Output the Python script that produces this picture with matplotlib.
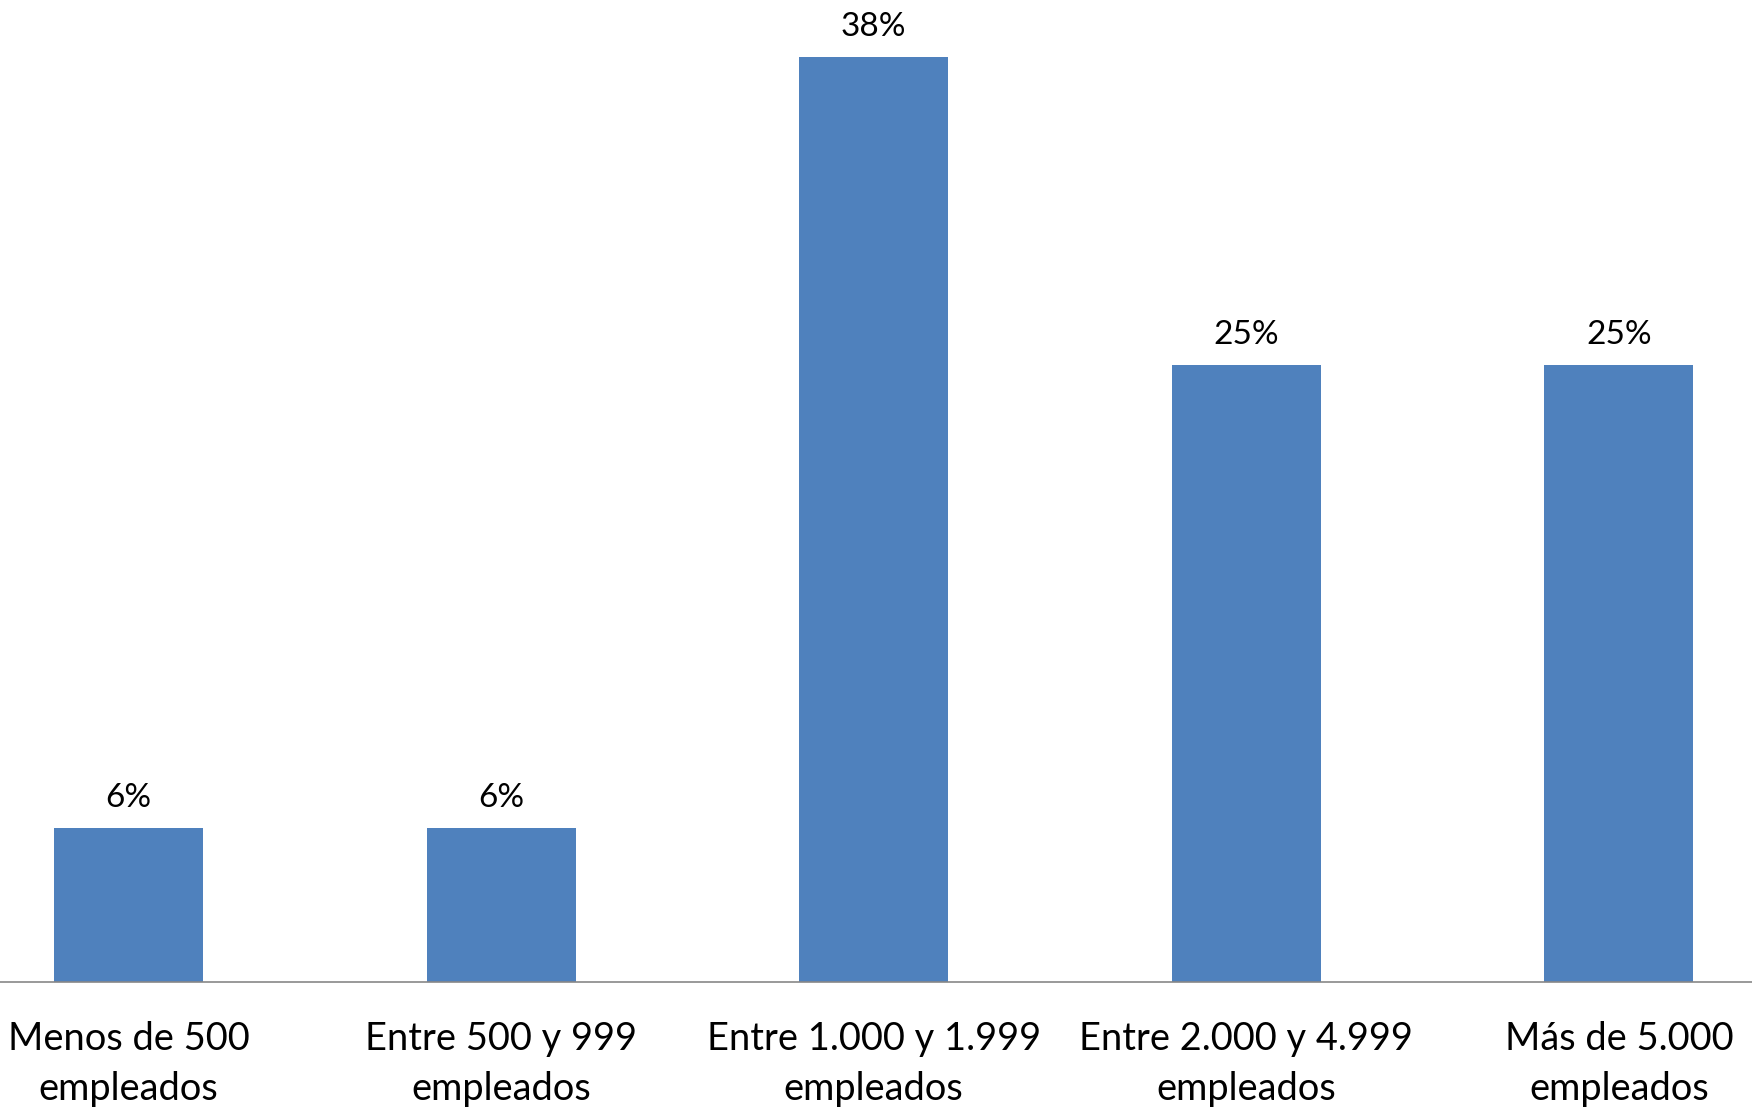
import matplotlib
matplotlib.use("Agg")
import matplotlib.pyplot as plt
import numpy as np

categories = [
    "Menos de 500\nempleados",
    "Entre 500 y 999\nempleados",
    "Entre 1.000 y 1.999\nempleados",
    "Entre 2.000 y 4.999\nempleados",
    "Más de 5.000\nempleados",
]
values = [6.25, 6.25, 37.5, 25.0, 25.0]
value_labels = ["6%", "6%", "38%", "25%", "25%"]

BAR_COLOR = "#4F81BD"

plt.rcParams["font.family"] = ["Lato", "DejaVu Sans"]

fig = plt.figure(figsize=(17.52, 11.12), dpi=100)
# the source chart is cropped on both sides, so the axes run past the figure edges
ax = fig.add_axes([-0.033, 0.1169, 1.0634, 0.8318])

x = np.arange(len(categories))
ax.bar(x, values, width=0.40, color=BAR_COLOR, edgecolor="none")
for xi, v, lab in zip(x, values, value_labels):
    ax.annotate(lab, (xi, v), xytext=(0, 11), textcoords="offset points",
                ha="center", va="bottom", fontsize=24, color="black")

ax.set_xlim(-0.5, len(categories) - 0.5)
ax.set_ylim(0, 37.5)
ax.set_xticks(x)
ax.set_xticklabels(categories, fontsize=27.4, linespacing=1.47)
ax.tick_params(axis="x", length=0, pad=28)
ax.set_yticks([])
for side in ("top", "left", "right"):
    ax.spines[side].set_visible(False)
ax.spines["bottom"].set_color("#878787")
ax.spines["bottom"].set_linewidth(1.2)

fig.savefig("out.png", dpi=100)
